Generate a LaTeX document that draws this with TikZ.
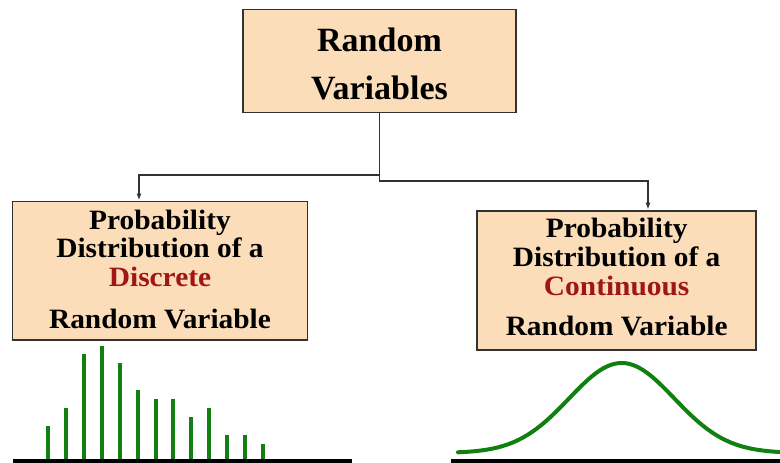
\documentclass[tikz,border=0pt]{standalone}
\usepackage{fontspec}
\setmainfont{Liberation Serif}
\newfontfamily\boxfont{Liberation Serif}[FakeStretch=1.05]
\usetikzlibrary{arrows.meta}
\definecolor{peach}{RGB}{252,221,186}
\definecolor{boxline}{RGB}{50,50,50}
\definecolor{darkred}{RGB}{160,22,22}
\definecolor{bargreen}{RGB}{16,128,16}
\tikzset{
  box/.style={draw=boxline, line width=1.8pt, fill=peach, inner sep=0pt, align=center, text=black},
  conn/.style={draw=boxline, line width=1.6pt, -{Latex[length=7pt,width=5pt]}},
  bar/.style={draw=bargreen, line width=4.2pt},
  axis/.style={draw=black, line width=5pt},
  curve/.style={draw=bargreen, line width=4pt, line cap=round}
}
\begin{document}
\begin{tikzpicture}[x=1pt,y=-1pt]
\useasboundingbox (0,0) rectangle (780,463);
% top box
\node[box, minimum width=273pt, minimum height=103pt, text height=76.6pt, text depth=0pt,
      font=\fontsize{34}{47.6}\selectfont\bfseries] (top) at (379.5,61) {Random\\Variables};
% left box
\node[box, minimum width=295pt, minimum height=138.5pt, text height=115.2pt, text depth=0pt,
      font=\fontsize{28}{28.6}\boxfont\bfseries] (left) at (160,270.7)
  {Probability\\Distribution of a\\\textcolor{darkred}{Discrete}\\[13.5pt]Random Variable};
% right box
\node[box, minimum width=279pt, minimum height=139pt, text height=109.8pt, text depth=0pt,
      font=\fontsize{28}{28.8}\boxfont\bfseries] (right) at (616.7,280.1)
  {Probability\\Distribution of a\\\textcolor{darkred}{Continuous}\\[11pt]Random Variable};
% connectors
\draw[conn] (top.south) -- ++(0,61.5) -| ([xshift=-21pt]left.north);
\draw[conn] (top.south) -- ++(0,67.5) -| ([xshift=31.3pt]right.north);
% discrete bars
\coordinate (lb1) at (12.7,461.5);
\coordinate (lb2) at (351.7,461.5);
\foreach \x/\t in {48.3/426, 66.3/408.3, 84.3/354.3, 102.3/345.7, 120/363, 137.7/390,
                   155.7/398.7, 173.3/398.7, 191.3/417.3, 209/408.3, 227/435, 245/435, 263/444}
  \draw[bar] (\x,460) -- (\x,\t);
\draw[axis] (lb1) -- (lb2);
% continuous curve
\coordinate (rb1) at (450.7,461.5);
\coordinate (rb2) at (782,461.5);
\draw[curve] plot[domain=458:790, samples=120, smooth]
  (\x, {453-90*exp(-0.5*((\x-621.7)/52.6)*((\x-621.7)/52.6))});
\draw[axis] (rb1) -- (rb2);
\end{tikzpicture}
\end{document}
